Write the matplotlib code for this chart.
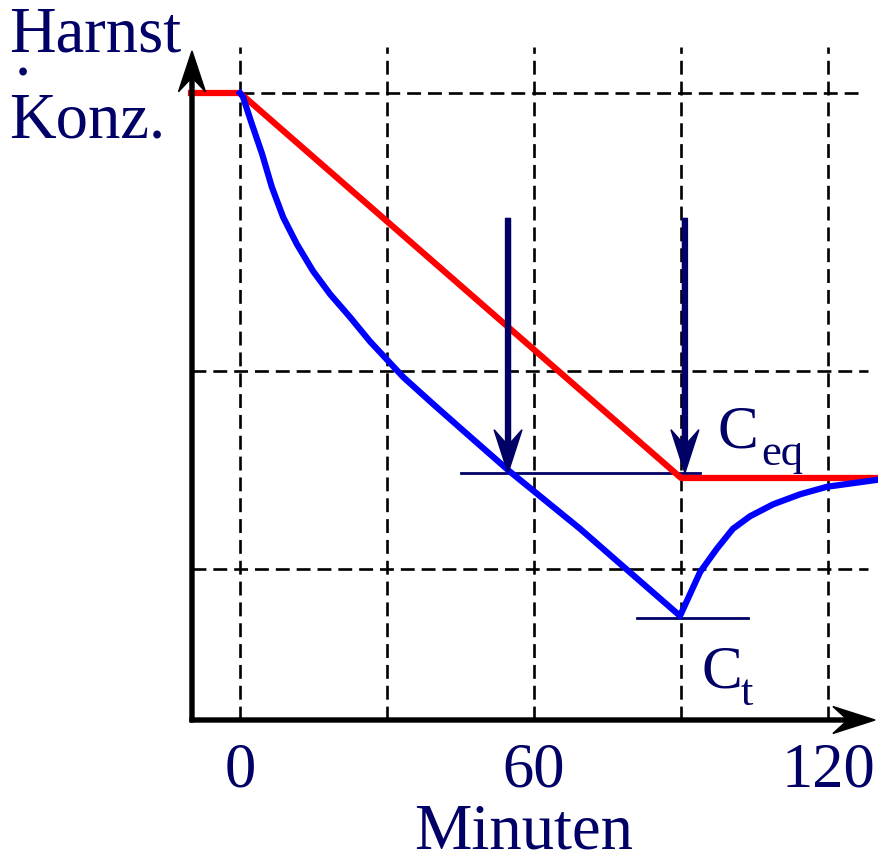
import matplotlib
matplotlib.use('Agg')
from matplotlib import pyplot as plt

plt.rcParams['font.family'] = ['Liberation Serif', 'DejaVu Serif']
plt.rcParams['lines.scale_dashes'] = False

navy = '#000066'

# time in minutes, concentration in arbitrary units (100 = start level)
red_t = [-10, 0, 90, 130]
red_c = [100, 100, 38.6, 38.6]

blue_t = [0, 0.6, 2.4, 4.5, 6.5, 8.8, 11.6, 14.9, 18.4, 22.4, 26.5, 30.2, 33.3,
          39.4, 44.9, 55.1, 69.4, 77.6, 89.8,
          93.9, 97.3, 100.6, 104.1, 108.8, 114.3, 119.8, 130]
blue_c = [100, 99.4, 95.1, 90.3, 85.0, 80.2, 75.9, 71.6, 67.9, 64.3, 60.4, 57.3, 54.7,
          50.4, 46.6, 39.6, 30.5, 24.9, 16.6,
          23.6, 27.3, 30.5, 32.5, 34.4, 36.0, 37.2, 38.3]

grid_t = [0, 30, 60, 90, 120]
grid_c = [100, 55.7, 24.1]
xtick_vals = [0, 60, 120]
xtick_labels = ['0', '60', '120']

c_eq = 39.4
c_t = 16.3
arrow_t = [54.7, 90.8]
arrow_top = 80

fig = plt.figure(figsize=(8.79, 8.54), dpi=100)
ax = fig.add_axes([0, 0, 1, 1])
ax.set_xlim(-240 / 4.9, 639 / 4.9)
ax.set_ylim((721 - 854) / 6.27, 721 / 6.27)
ax.axis('off')

dash = (0, (10, 5))
for t in grid_t:
    ax.plot([t, t], [0, 107.3], color='black', lw=1.9, linestyle=dash, zorder=1)
ax.plot([0, 126.9], [grid_c[0]] * 2, color='black', lw=1.9, linestyle=dash, zorder=1)
for c in grid_c[1:]:
    ax.plot([-9.8, 128.2], [c, c], color='black', lw=1.9, linestyle=dash, zorder=1)

# axes with arrows
ax.arrow(-9.8, -0.3, 0, 107.0, width=0.82, head_width=5.5, head_length=6.5,
         overhang=0.3, length_includes_head=True, color='black', zorder=5)
ax.arrow(-10.2, 0, 139.8, 0, width=0.64, head_width=4.3, head_length=8.6,
         overhang=0.3, length_includes_head=True, color='black', zorder=5)

# reference levels
ax.plot([45.1, 93.9], [c_eq, c_eq], color=navy, lw=2, zorder=2)
ax.plot([81, 103.7], [c_t, c_t], color=navy, lw=2, zorder=2)

ax.plot(red_t, red_c, color='#ff0000', lw=4.5, solid_joinstyle='round', zorder=3)
ax.plot(blue_t, blue_c, color='#0000ff', lw=4.5, solid_joinstyle='round', zorder=3)

for t in arrow_t:
    ax.arrow(t, arrow_top, 0, c_eq - arrow_top, width=1.02, head_width=5.7,
             head_length=6.9, overhang=0.3, length_includes_head=True,
             color=navy, zorder=4)

for v, lab in zip(xtick_vals, xtick_labels):
    ax.text(v, -10.5, lab, ha='center', va='baseline', fontsize=45, color=navy)

W, H = 879, 854
fs = 46.5
fig.text(9 / W, 1 - 52 / H, 'Harnst', fontsize=fs, color=navy, va='baseline')
fig.text(15 / W, 1 - 76 / H, '.', fontsize=fs, color=navy, va='baseline')
fig.text(9 / W, 1 - 137 / H, 'Konz.', fontsize=fs, color=navy, va='baseline')
fig.text(524 / W, 1 - 849 / H, 'Minuten', fontsize=fs, color=navy,
         va='baseline', ha='center')

fig.text(718 / W, 1 - 448 / H, 'C', fontsize=44, color=navy, va='baseline')
fig.text(761 / W, 1 - 465 / H, 'eq', fontsize=32, color=navy, va='baseline')
fig.text(702 / W, 1 - 688 / H, 'C', fontsize=44, color=navy, va='baseline')
fig.text(741 / W, 1 - 705 / H, 't', fontsize=32, color=navy, va='baseline')

fig.savefig('out.png', dpi=100)
